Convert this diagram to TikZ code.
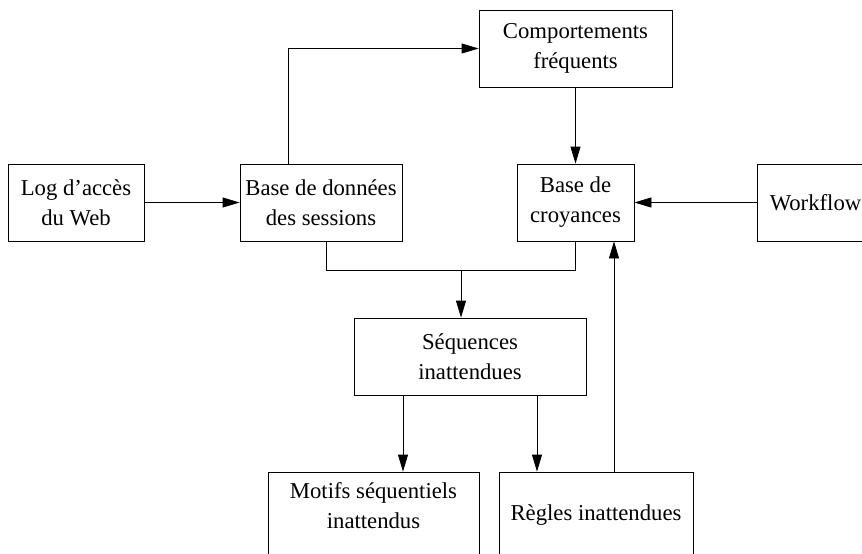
\documentclass[tikz,border=0pt]{standalone}
\usepackage{fontspec}
\setmainfont{Liberation Serif}
\usetikzlibrary{arrows.meta}

\begin{document}
\begin{tikzpicture}[x=1pt, y=-1pt,
        box/.style={draw, line width=0.8pt, rectangle, align=center, inner sep=0pt,
            font=\fontsize{22.7}{30}\selectfont, minimum height=77pt},
        flow/.style={line width=0.8pt, -{Triangle[length=17pt,width=10pt]}},
        link/.style={line width=0.8pt}]
        \useasboundingbox (0, 0) rectangle (862, 554);
        \node[box, minimum width=136pt] (log) at (76, 202.5) {Log d'accès\\du Web};
        \node[box, minimum width=162pt] (sessions) at (321, 202.5) {Base de données\\des sessions};
        \node[box, minimum width=193pt] (freq) at (575.5, 48.5) {Comportements\\fréquents};
        \node[box, minimum width=117pt] (croyances) at (575.5, 202.5) {Base de\\croyances};
        \node[box, minimum width=117pt] (workflow) at (815.5, 202.5) {Workflow};
        \node[box, minimum width=232pt] (seq) at (470, 356.5) {Séquences\\inattendues};
        \node[box, minimum width=211pt, minimum height=86pt, text depth=18pt] (motifs) at (373.5, 515) {Motifs séquentiels\\inattendus};
        \node[box, minimum width=194pt, minimum height=86pt] (regles) at (596, 515) {Règles inattendues};
        \coordinate (join) at (461, 270);
        \draw[flow] (log) -- (sessions);
        \draw[flow] ([xshift=-33pt]sessions.north) |- (freq.west);
        \draw[flow] (freq) -- (croyances);
        \draw[flow] (workflow) -- (croyances);
        \draw[link] ([xshift=5pt]sessions.south) |- (join);
        \draw[link] (croyances.south) |- (join);
        \draw[flow] (join) -- (join |- seq.north);
        \draw[flow] ([xshift=-67pt]seq.south) -- ([xshift=-67pt]seq.south |- motifs.north);
        \draw[flow] ([xshift=67pt]seq.south) -- ([xshift=67pt]seq.south |- regles.north);
        \draw[flow] ([xshift=18pt]regles.north) -- ([xshift=18pt]regles.north |- croyances.south);
    \end{tikzpicture}
\end{document}
